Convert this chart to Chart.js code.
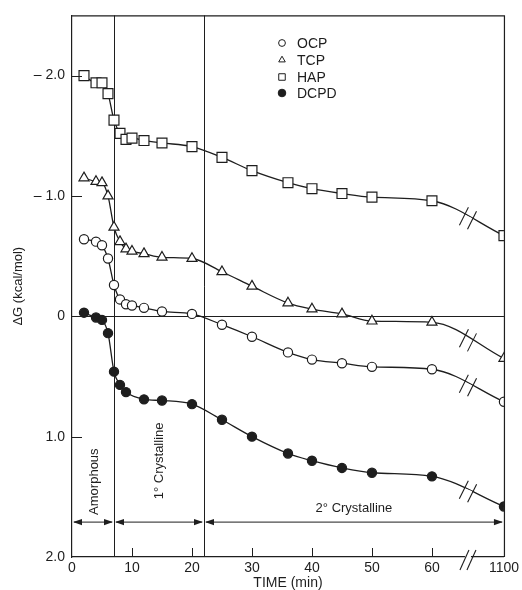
<!DOCTYPE html>
<html>
<head>
<meta charset="utf-8">
<script src="https://cdn.jsdelivr.net/npm/chart.js@4.4.1/dist/chart.umd.min.js"></script>
<style>
  html,body{margin:0;padding:0;background:#fff;}
  #wrap{width:522px;height:590px;}
</style>
</head>
<body>
<div id="wrap"><canvas id="c" width="522" height="590"></canvas></div>
<script>
// ── Data ─────────────────────────────────────────────────────────────────────
const TIME = [2,4,5,6,7,8,9,10,12,15,20,25,30,36,40,45,50,60,1100];
const OCP  = [-0.64,-0.62,-0.59,-0.48,-0.26,-0.14,-0.10,-0.09,-0.07,-0.04,-0.02,0.07,0.17,0.30,0.36,0.39,0.42,0.44,0.71];
const TCP  = [-1.15,-1.12,-1.11,-1.00,-0.74,-0.62,-0.56,-0.54,-0.52,-0.49,-0.48,-0.37,-0.25,-0.11,-0.06,-0.02,0.04,0.05,0.35];
const HAP  = [-2.00,-1.94,-1.94,-1.85,-1.63,-1.52,-1.47,-1.48,-1.46,-1.44,-1.41,-1.32,-1.21,-1.11,-1.06,-1.02,-0.99,-0.96,-0.67];
const DCPD = [-0.03,0.01,0.03,0.14,0.46,0.57,0.63,null,0.69,0.70,0.73,0.86,1.00,1.14,1.20,1.26,1.30,1.33,1.58];

const X_TICKS = [0,10,20,30,40,50,60,1100];
const Y_TICKS = [-2,-1,0,1,2];
const PHASES = [
  {label:'Amorphous',      from:0,  to:7},
  {label:'1\u00b0 Crystalline', from:7,  to:22},
  {label:'2\u00b0 Crystalline', from:22, to:1100}
];

// time axis is broken after 60 min: 1100 min sits at axis position 72
const BREAK_POS = 66, END_POS = 72;
const pos = t => t > 60 ? END_POS : t;
const pts = arr => TIME.map((t,i)=>({x:pos(t), y:arr[i]}));

const INK = '#1e1e1e';
const FONT = 'Liberation Sans, Arial, Helvetica, sans-serif';

function ds(label, arr, style, r, fill) {
  return {label, data:pts(arr), borderColor:INK, borderWidth:1.3, spanGaps:true,
    cubicInterpolationMode:'monotone', pointStyle:style, pointRadius:r,
    pointBackgroundColor:fill, pointBorderColor:INK, pointBorderWidth:1.2, fill:false};
}

const datasets = [
  ds('OCP', OCP, 'circle', 4.6, '#fff'),
  ds('TCP', TCP, 'triangle', 5.8, '#fff'),
  ds('HAP', HAP, 'rect', 7, '#fff'),
  ds('DCPD', DCPD, 'circle', 4.6, INK)
];

// ── helpers ──────────────────────────────────────────────────────────────────
function slashes(ctx, cx, cy, dx, dy, hx, hy) {
  // two parallel "/" marks around (cx,cy); (dx,dy) = offset between them, (hx,hy) = half length
  [-1,1].forEach(s=>{
    const x=cx+s*dx/2, y=cy+s*dy/2;
    ctx.beginPath(); ctx.moveTo(x-hx,y+hy); ctx.lineTo(x+hx,y-hy); ctx.stroke();
  });
}

function arrow(ctx, x1, x2, y) {
  const L=9, W=3.2;
  ctx.beginPath(); ctx.moveTo(x1+2,y); ctx.lineTo(x2-2,y); ctx.stroke();
  ctx.beginPath(); ctx.moveTo(x1+1,y); ctx.lineTo(x1+1+L,y-W); ctx.lineTo(x1+1+L,y+W); ctx.closePath(); ctx.fill();
  ctx.beginPath(); ctx.moveTo(x2-1,y); ctx.lineTo(x2-1-L,y-W); ctx.lineTo(x2-1-L,y+W); ctx.closePath(); ctx.fill();
}

// ── decorations: phase lines, frame, inward ticks, breaks, labels, legend ─────
const decor = {
  id:'decor',
  beforeDatasetsDraw(chart) {
    const ctx=chart.ctx, a=chart.chartArea, x=chart.scales.x;
    ctx.save(); ctx.strokeStyle=INK; ctx.lineWidth=1;
    PHASES.slice(1).forEach(p=>{
      const px=Math.round(x.getPixelForValue(pos(p.from)))+0.5;
      ctx.beginPath(); ctx.moveTo(px,a.top); ctx.lineTo(px,a.bottom); ctx.stroke();
    });
    ctx.restore();
  },
  afterDatasetsDraw(chart) {
    const ctx=chart.ctx, a=chart.chartArea, x=chart.scales.x, y=chart.scales.y;
    ctx.save();
    ctx.strokeStyle=INK; ctx.fillStyle=INK; ctx.lineWidth=1.2;

    // top + right frame
    ctx.beginPath(); ctx.moveTo(a.left,a.top+0.5); ctx.lineTo(a.right+0.5,a.top+0.5); ctx.lineTo(a.right+0.5,a.bottom); ctx.stroke();

    // inward ticks
    ctx.lineWidth=1;
    X_TICKS.slice(1,-1).forEach(t=>{
      const px=Math.round(x.getPixelForValue(pos(t)))+0.5;
      ctx.beginPath(); ctx.moveTo(px,a.bottom); ctx.lineTo(px,a.bottom-9); ctx.stroke();
    });
    Y_TICKS.slice(0,-1).forEach(v=>{
      const py=Math.round(y.getPixelForValue(v))+0.5;
      ctx.beginPath(); ctx.moveTo(a.left,py); ctx.lineTo(a.left+10,py); ctx.stroke();
    });

    // breaks on each curve between 60 min and 1100 min
    const f=(BREAK_POS-60)/(END_POS-60);
    chart.data.datasets.forEach((d,i)=>{
      const els=chart.getDatasetMeta(i).data, n=els.length;
      const p0=els[n-2], p1=els[n-1];
      const bx=p0.x+(p1.x-p0.x)*f, by=p0.y+(p1.y-p0.y)*f;
      const len=Math.hypot(p1.x-p0.x,p1.y-p0.y), ux=(p1.x-p0.x)/len, uy=(p1.y-p0.y)/len;
      ctx.strokeStyle='#fff'; ctx.lineWidth=3.5;
      ctx.beginPath(); ctx.moveTo(bx-ux*4,by-uy*4); ctx.lineTo(bx+ux*4,by+uy*4); ctx.stroke();
      ctx.strokeStyle=INK; ctx.lineWidth=1.1;
      slashes(ctx,bx,by,ux*9,uy*9,4.5,9);
    });

    // break on the time axis
    const ax=x.getPixelForValue(BREAK_POS);
    ctx.strokeStyle='#fff'; ctx.lineWidth=3;
    ctx.beginPath(); ctx.moveTo(ax-3,a.bottom); ctx.lineTo(ax+3,a.bottom); ctx.stroke();
    ctx.strokeStyle=INK; ctx.lineWidth=1.1;
    slashes(ctx,ax,a.bottom+3,7,0,4.5,10);

    // phase arrows + labels
    const ay=y.getPixelForValue(1.71);
    ctx.lineWidth=1;
    PHASES.forEach(p=>arrow(ctx,x.getPixelForValue(pos(p.from)),x.getPixelForValue(pos(p.to)),ay));
    ctx.font='13px '+FONT; ctx.fillStyle=INK; ctx.textBaseline='middle';
    [[PHASES[0],3.7,1.65],[PHASES[1],14.6,1.52]].forEach(([p,tx,ty])=>{
      ctx.save(); ctx.translate(x.getPixelForValue(tx),y.getPixelForValue(ty)); ctx.rotate(-Math.PI/2);
      ctx.textAlign='left'; ctx.fillText(p.label,0,0); ctx.restore();
    });
    ctx.textAlign='center';
    ctx.fillText(PHASES[2].label,(x.getPixelForValue(pos(22))+x.getPixelForValue(END_POS))/2,y.getPixelForValue(1.6));

    // legend
    const lx=282, ly=[43,60,77,93];
    const sym=[['circle',3.4,'#fff'],['triangle',3.8,'#fff'],['rect',4.6,'#fff'],['circle',3.8,INK]];
    chart.data.datasets.forEach((d,i)=>{
      ctx.lineWidth=1; ctx.strokeStyle=INK; ctx.fillStyle=sym[i][2];
      Chart.helpers.drawPoint(ctx,{pointStyle:sym[i][0],radius:sym[i][1],rotation:0,borderWidth:1},lx,ly[i]);
      ctx.fillStyle=INK; ctx.textAlign='left'; ctx.font='14px '+FONT;
      ctx.fillText(d.label,lx+15,ly[i]+1);
    });
    ctx.restore();
  }
};

new Chart(document.getElementById('c'), {
  type:'line',
  data:{datasets},
  plugins:[decor],
  options:{
    responsive:false, animation:false, events:[],
    layout:{padding:{top:14,right:16,left:0,bottom:0}},
    plugins:{legend:{display:false},tooltip:{enabled:false}},
    scales:{
      x:{type:'linear', min:0, max:END_POS,
        afterBuildTicks:s=>{s.ticks=X_TICKS.map(t=>({value:pos(t)}));},
        afterFit:s=>{s.height=33;},
        grid:{display:false, drawTicks:false},
        border:{color:INK, width:1.2},
        ticks:{padding:3, autoSkip:false, maxRotation:0, color:INK, font:{size:14,family:FONT},
          callback:(v,i)=>String(X_TICKS[i])},
        title:{display:true, text:'TIME (min)', color:INK, font:{size:14,family:FONT,lineHeight:1}, padding:{top:0,bottom:0}}
      },
      y:{type:'linear', reverse:true, min:-2.5, max:2,
        afterBuildTicks:s=>{s.ticks=Y_TICKS.map(v=>({value:v}));},
        afterFit:s=>{s.width=72;},
        grid:{drawTicks:false, color:c=>(c.tick&&c.tick.value===0)?INK:'rgba(0,0,0,0)', lineWidth:1},
        border:{color:INK, width:1.2},
        ticks:{padding:7, color:INK, font:{size:14,family:FONT},
          callback:v=>v===0?'0':(v<0?'\u2013 ':'')+Math.abs(v).toFixed(1)},
        title:{display:true, text:'\u0394G (kcal/mol)', color:INK, font:{size:13,family:FONT,lineHeight:1}, padding:{top:12,bottom:0}}
      }
    }
  }
});
</script>
</body>
</html>
